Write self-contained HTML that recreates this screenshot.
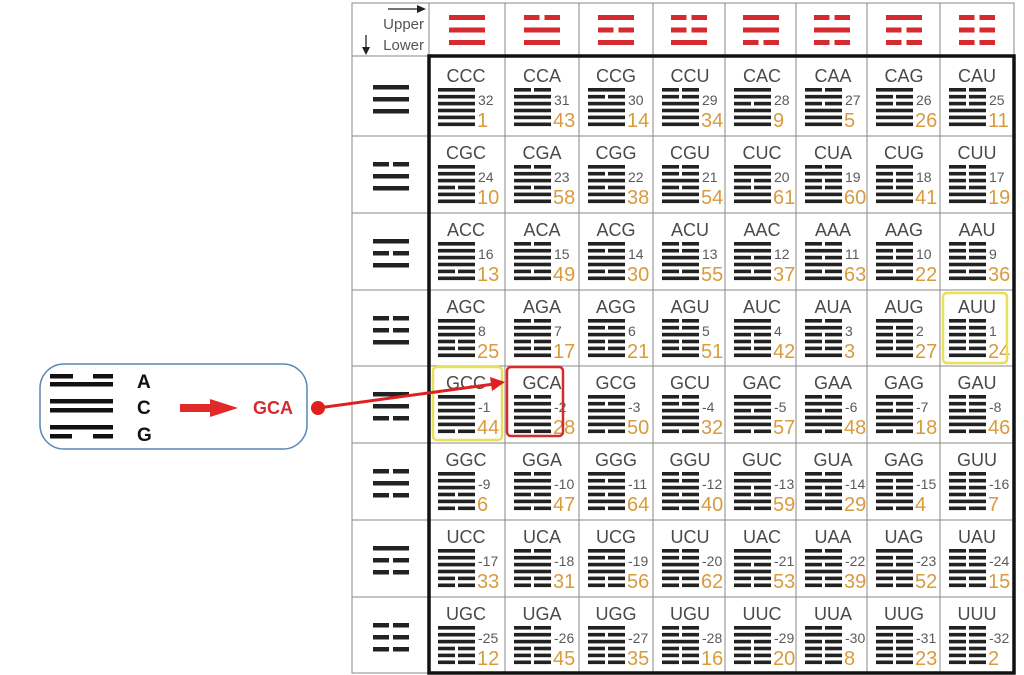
<!DOCTYPE html>
<html><head><meta charset="utf-8"><style>
html,body{margin:0;padding:0;background:#fff;}
svg{display:block;font-family:"Liberation Sans",sans-serif;}
.c{font-size:18px;fill:#4a4a4a;text-anchor:middle;}
.g{font-size:14px;fill:#5a5a5a;}
.o{font-size:20px;fill:#d99b3c;}
</style></head><body>
<svg width="1024" height="675" viewBox="0 0 1024 675" xmlns="http://www.w3.org/2000/svg">
<defs>
<g id="C" fill="#222"><rect x="9" y="0" width="37" height="3.6"/><rect x="9" y="6.9" width="37" height="3.6"/></g>
<g id="A" fill="#222"><rect x="9" y="0" width="17" height="3.6"/><rect x="29" y="0" width="17" height="3.6"/><rect x="9" y="6.9" width="37" height="3.6"/></g>
<g id="G" fill="#222"><rect x="9" y="0" width="37" height="3.6"/><rect x="9" y="6.9" width="17" height="3.6"/><rect x="29" y="6.9" width="17" height="3.6"/></g>
<g id="U" fill="#222"><rect x="9" y="0" width="17" height="3.6"/><rect x="29" y="0" width="17" height="3.6"/><rect x="9" y="6.9" width="17" height="3.6"/><rect x="29" y="6.9" width="17" height="3.6"/></g>
<g id="RS" fill="#d42a30"><rect x="0" y="0" width="36" height="5"/></g>
<g id="RB" fill="#d42a30"><rect x="0" y="0" width="15.5" height="5"/><rect x="20.5" y="0" width="15.5" height="5"/></g>
<g id="KS" fill="#222"><rect x="0" y="0" width="36" height="4.5"/></g>
<g id="KB" fill="#222"><rect x="0" y="0" width="16" height="4.5"/><rect x="20" y="0" width="16" height="4.5"/></g>
</defs>

<g stroke="#8a8a8a" stroke-width="1" fill="none">
<rect x="352" y="3" width="662" height="670"/>
<line x1="505" y1="3" x2="505" y2="673"/><line x1="579" y1="3" x2="579" y2="673"/><line x1="653" y1="3" x2="653" y2="673"/>
<line x1="725" y1="3" x2="725" y2="673"/><line x1="796" y1="3" x2="796" y2="673"/><line x1="867" y1="3" x2="867" y2="673"/><line x1="940" y1="3" x2="940" y2="673"/>
<line x1="352" y1="136" x2="1014" y2="136"/><line x1="352" y1="213" x2="1014" y2="213"/><line x1="352" y1="290" x2="1014" y2="290"/>
<line x1="352" y1="366" x2="1014" y2="366"/><line x1="352" y1="443" x2="1014" y2="443"/><line x1="352" y1="520" x2="1014" y2="520"/><line x1="352" y1="597" x2="1014" y2="597"/>
<line x1="352" y1="56" x2="429" y2="56"/><line x1="429" y1="3" x2="429" y2="56"/>
</g>
<rect x="429" y="56" width="585" height="617" fill="none" stroke="#111" stroke-width="3.5"/>

<text x="424" y="29" font-size="15" fill="#555" text-anchor="end">Upper</text>
<text x="424" y="50" font-size="15" fill="#555" text-anchor="end">Lower</text>
<line x1="388" y1="9" x2="420" y2="9" stroke="#222" stroke-width="1.3"/><polygon points="426,9 417,5 417,13" fill="#222"/>
<line x1="366" y1="35" x2="366" y2="50" stroke="#222" stroke-width="1.3"/><polygon points="366,55 362,47 370,47" fill="#222"/>

<g transform="translate(449,15)"><use href="#RS"/><use href="#RS" y="12.5"/><use href="#RS" y="25"/></g>
<g transform="translate(524,15)"><use href="#RB"/><use href="#RS" y="12.5"/><use href="#RS" y="25"/></g>
<g transform="translate(598,15)"><use href="#RS"/><use href="#RB" y="12.5"/><use href="#RS" y="25"/></g>
<g transform="translate(671,15)"><use href="#RB"/><use href="#RB" y="12.5"/><use href="#RS" y="25"/></g>
<g transform="translate(743,15)"><use href="#RS"/><use href="#RS" y="12.5"/><use href="#RB" y="25"/></g>
<g transform="translate(814,15)"><use href="#RB"/><use href="#RS" y="12.5"/><use href="#RB" y="25"/></g>
<g transform="translate(886,15)"><use href="#RS"/><use href="#RB" y="12.5"/><use href="#RB" y="25"/></g>
<g transform="translate(959,15)"><use href="#RB"/><use href="#RB" y="12.5"/><use href="#RB" y="25"/></g>

<g transform="translate(373,85)"><use href="#KS"/><use href="#KS" y="12"/><use href="#KS" y="24"/></g>
<g transform="translate(373,162)"><use href="#KB"/><use href="#KS" y="12"/><use href="#KS" y="24"/></g>
<g transform="translate(373,239)"><use href="#KS"/><use href="#KB" y="12"/><use href="#KS" y="24"/></g>
<g transform="translate(373,316)"><use href="#KB"/><use href="#KB" y="12"/><use href="#KS" y="24"/></g>
<g transform="translate(373,392)"><use href="#KS"/><use href="#KS" y="12"/><use href="#KB" y="24"/></g>
<g transform="translate(373,469)"><use href="#KB"/><use href="#KS" y="12"/><use href="#KB" y="24"/></g>
<g transform="translate(373,546)"><use href="#KS"/><use href="#KB" y="12"/><use href="#KB" y="24"/></g>
<g transform="translate(373,623)"><use href="#KB"/><use href="#KB" y="12"/><use href="#KB" y="24"/></g>

<g transform="translate(429,56)"><text class="c" x="37" y="26">CCC</text><use href="#C" y="32"/><use href="#C" y="45.8"/><use href="#C" y="59.6"/><text class="g" x="49" y="49">32</text><text class="o" x="48" y="71">1</text></g>
<g transform="translate(505,56)"><text class="c" x="37" y="26">CCA</text><use href="#A" y="32"/><use href="#C" y="45.8"/><use href="#C" y="59.6"/><text class="g" x="49" y="49">31</text><text class="o" x="48" y="71">43</text></g>
<g transform="translate(579,56)"><text class="c" x="37" y="26">CCG</text><use href="#G" y="32"/><use href="#C" y="45.8"/><use href="#C" y="59.6"/><text class="g" x="49" y="49">30</text><text class="o" x="48" y="71">14</text></g>
<g transform="translate(653,56)"><text class="c" x="37" y="26">CCU</text><use href="#U" y="32"/><use href="#C" y="45.8"/><use href="#C" y="59.6"/><text class="g" x="49" y="49">29</text><text class="o" x="48" y="71">34</text></g>
<g transform="translate(725,56)"><text class="c" x="37" y="26">CAC</text><use href="#C" y="32"/><use href="#A" y="45.8"/><use href="#C" y="59.6"/><text class="g" x="49" y="49">28</text><text class="o" x="48" y="71">9</text></g>
<g transform="translate(796,56)"><text class="c" x="37" y="26">CAA</text><use href="#A" y="32"/><use href="#A" y="45.8"/><use href="#C" y="59.6"/><text class="g" x="49" y="49">27</text><text class="o" x="48" y="71">5</text></g>
<g transform="translate(867,56)"><text class="c" x="37" y="26">CAG</text><use href="#G" y="32"/><use href="#A" y="45.8"/><use href="#C" y="59.6"/><text class="g" x="49" y="49">26</text><text class="o" x="48" y="71">26</text></g>
<g transform="translate(940,56)"><text class="c" x="37" y="26">CAU</text><use href="#U" y="32"/><use href="#A" y="45.8"/><use href="#C" y="59.6"/><text class="g" x="49" y="49">25</text><text class="o" x="48" y="71">11</text></g>
<g transform="translate(429,133)"><text class="c" x="37" y="26">CGC</text><use href="#C" y="32"/><use href="#G" y="45.8"/><use href="#C" y="59.6"/><text class="g" x="49" y="49">24</text><text class="o" x="48" y="71">10</text></g>
<g transform="translate(505,133)"><text class="c" x="37" y="26">CGA</text><use href="#A" y="32"/><use href="#G" y="45.8"/><use href="#C" y="59.6"/><text class="g" x="49" y="49">23</text><text class="o" x="48" y="71">58</text></g>
<g transform="translate(579,133)"><text class="c" x="37" y="26">CGG</text><use href="#G" y="32"/><use href="#G" y="45.8"/><use href="#C" y="59.6"/><text class="g" x="49" y="49">22</text><text class="o" x="48" y="71">38</text></g>
<g transform="translate(653,133)"><text class="c" x="37" y="26">CGU</text><use href="#U" y="32"/><use href="#G" y="45.8"/><use href="#C" y="59.6"/><text class="g" x="49" y="49">21</text><text class="o" x="48" y="71">54</text></g>
<g transform="translate(725,133)"><text class="c" x="37" y="26">CUC</text><use href="#C" y="32"/><use href="#U" y="45.8"/><use href="#C" y="59.6"/><text class="g" x="49" y="49">20</text><text class="o" x="48" y="71">61</text></g>
<g transform="translate(796,133)"><text class="c" x="37" y="26">CUA</text><use href="#A" y="32"/><use href="#U" y="45.8"/><use href="#C" y="59.6"/><text class="g" x="49" y="49">19</text><text class="o" x="48" y="71">60</text></g>
<g transform="translate(867,133)"><text class="c" x="37" y="26">CUG</text><use href="#G" y="32"/><use href="#U" y="45.8"/><use href="#C" y="59.6"/><text class="g" x="49" y="49">18</text><text class="o" x="48" y="71">41</text></g>
<g transform="translate(940,133)"><text class="c" x="37" y="26">CUU</text><use href="#U" y="32"/><use href="#U" y="45.8"/><use href="#C" y="59.6"/><text class="g" x="49" y="49">17</text><text class="o" x="48" y="71">19</text></g>
<g transform="translate(429,210)"><text class="c" x="37" y="26">ACC</text><use href="#C" y="32"/><use href="#C" y="45.8"/><use href="#A" y="59.6"/><text class="g" x="49" y="49">16</text><text class="o" x="48" y="71">13</text></g>
<g transform="translate(505,210)"><text class="c" x="37" y="26">ACA</text><use href="#A" y="32"/><use href="#C" y="45.8"/><use href="#A" y="59.6"/><text class="g" x="49" y="49">15</text><text class="o" x="48" y="71">49</text></g>
<g transform="translate(579,210)"><text class="c" x="37" y="26">ACG</text><use href="#G" y="32"/><use href="#C" y="45.8"/><use href="#A" y="59.6"/><text class="g" x="49" y="49">14</text><text class="o" x="48" y="71">30</text></g>
<g transform="translate(653,210)"><text class="c" x="37" y="26">ACU</text><use href="#U" y="32"/><use href="#C" y="45.8"/><use href="#A" y="59.6"/><text class="g" x="49" y="49">13</text><text class="o" x="48" y="71">55</text></g>
<g transform="translate(725,210)"><text class="c" x="37" y="26">AAC</text><use href="#C" y="32"/><use href="#A" y="45.8"/><use href="#A" y="59.6"/><text class="g" x="49" y="49">12</text><text class="o" x="48" y="71">37</text></g>
<g transform="translate(796,210)"><text class="c" x="37" y="26">AAA</text><use href="#A" y="32"/><use href="#A" y="45.8"/><use href="#A" y="59.6"/><text class="g" x="49" y="49">11</text><text class="o" x="48" y="71">63</text></g>
<g transform="translate(867,210)"><text class="c" x="37" y="26">AAG</text><use href="#G" y="32"/><use href="#A" y="45.8"/><use href="#A" y="59.6"/><text class="g" x="49" y="49">10</text><text class="o" x="48" y="71">22</text></g>
<g transform="translate(940,210)"><text class="c" x="37" y="26">AAU</text><use href="#U" y="32"/><use href="#A" y="45.8"/><use href="#A" y="59.6"/><text class="g" x="49" y="49">9</text><text class="o" x="48" y="71">36</text></g>
<g transform="translate(429,287)"><text class="c" x="37" y="26">AGC</text><use href="#C" y="32"/><use href="#G" y="45.8"/><use href="#A" y="59.6"/><text class="g" x="49" y="49">8</text><text class="o" x="48" y="71">25</text></g>
<g transform="translate(505,287)"><text class="c" x="37" y="26">AGA</text><use href="#A" y="32"/><use href="#G" y="45.8"/><use href="#A" y="59.6"/><text class="g" x="49" y="49">7</text><text class="o" x="48" y="71">17</text></g>
<g transform="translate(579,287)"><text class="c" x="37" y="26">AGG</text><use href="#G" y="32"/><use href="#G" y="45.8"/><use href="#A" y="59.6"/><text class="g" x="49" y="49">6</text><text class="o" x="48" y="71">21</text></g>
<g transform="translate(653,287)"><text class="c" x="37" y="26">AGU</text><use href="#U" y="32"/><use href="#G" y="45.8"/><use href="#A" y="59.6"/><text class="g" x="49" y="49">5</text><text class="o" x="48" y="71">51</text></g>
<g transform="translate(725,287)"><text class="c" x="37" y="26">AUC</text><use href="#C" y="32"/><use href="#U" y="45.8"/><use href="#A" y="59.6"/><text class="g" x="49" y="49">4</text><text class="o" x="48" y="71">42</text></g>
<g transform="translate(796,287)"><text class="c" x="37" y="26">AUA</text><use href="#A" y="32"/><use href="#U" y="45.8"/><use href="#A" y="59.6"/><text class="g" x="49" y="49">3</text><text class="o" x="48" y="71">3</text></g>
<g transform="translate(867,287)"><text class="c" x="37" y="26">AUG</text><use href="#G" y="32"/><use href="#U" y="45.8"/><use href="#A" y="59.6"/><text class="g" x="49" y="49">2</text><text class="o" x="48" y="71">27</text></g>
<g transform="translate(940,287)"><text class="c" x="37" y="26">AUU</text><use href="#U" y="32"/><use href="#U" y="45.8"/><use href="#A" y="59.6"/><text class="g" x="49" y="49">1</text><text class="o" x="48" y="71">24</text></g>
<g transform="translate(429,363)"><text class="c" x="37" y="26">GCC</text><use href="#C" y="32"/><use href="#C" y="45.8"/><use href="#G" y="59.6"/><text class="g" x="49" y="49">-1</text><text class="o" x="48" y="71">44</text></g>
<g transform="translate(505,363)"><text class="c" x="37" y="26">GCA</text><use href="#A" y="32"/><use href="#C" y="45.8"/><use href="#G" y="59.6"/><text class="g" x="49" y="49">-2</text><text class="o" x="48" y="71">28</text></g>
<g transform="translate(579,363)"><text class="c" x="37" y="26">GCG</text><use href="#G" y="32"/><use href="#C" y="45.8"/><use href="#G" y="59.6"/><text class="g" x="49" y="49">-3</text><text class="o" x="48" y="71">50</text></g>
<g transform="translate(653,363)"><text class="c" x="37" y="26">GCU</text><use href="#U" y="32"/><use href="#C" y="45.8"/><use href="#G" y="59.6"/><text class="g" x="49" y="49">-4</text><text class="o" x="48" y="71">32</text></g>
<g transform="translate(725,363)"><text class="c" x="37" y="26">GAC</text><use href="#C" y="32"/><use href="#A" y="45.8"/><use href="#G" y="59.6"/><text class="g" x="49" y="49">-5</text><text class="o" x="48" y="71">57</text></g>
<g transform="translate(796,363)"><text class="c" x="37" y="26">GAA</text><use href="#A" y="32"/><use href="#A" y="45.8"/><use href="#G" y="59.6"/><text class="g" x="49" y="49">-6</text><text class="o" x="48" y="71">48</text></g>
<g transform="translate(867,363)"><text class="c" x="37" y="26">GAG</text><use href="#G" y="32"/><use href="#A" y="45.8"/><use href="#G" y="59.6"/><text class="g" x="49" y="49">-7</text><text class="o" x="48" y="71">18</text></g>
<g transform="translate(940,363)"><text class="c" x="37" y="26">GAU</text><use href="#U" y="32"/><use href="#A" y="45.8"/><use href="#G" y="59.6"/><text class="g" x="49" y="49">-8</text><text class="o" x="48" y="71">46</text></g>
<g transform="translate(429,440)"><text class="c" x="37" y="26">GGC</text><use href="#C" y="32"/><use href="#G" y="45.8"/><use href="#G" y="59.6"/><text class="g" x="49" y="49">-9</text><text class="o" x="48" y="71">6</text></g>
<g transform="translate(505,440)"><text class="c" x="37" y="26">GGA</text><use href="#A" y="32"/><use href="#G" y="45.8"/><use href="#G" y="59.6"/><text class="g" x="49" y="49">-10</text><text class="o" x="48" y="71">47</text></g>
<g transform="translate(579,440)"><text class="c" x="37" y="26">GGG</text><use href="#G" y="32"/><use href="#G" y="45.8"/><use href="#G" y="59.6"/><text class="g" x="49" y="49">-11</text><text class="o" x="48" y="71">64</text></g>
<g transform="translate(653,440)"><text class="c" x="37" y="26">GGU</text><use href="#U" y="32"/><use href="#G" y="45.8"/><use href="#G" y="59.6"/><text class="g" x="49" y="49">-12</text><text class="o" x="48" y="71">40</text></g>
<g transform="translate(725,440)"><text class="c" x="37" y="26">GUC</text><use href="#C" y="32"/><use href="#U" y="45.8"/><use href="#G" y="59.6"/><text class="g" x="49" y="49">-13</text><text class="o" x="48" y="71">59</text></g>
<g transform="translate(796,440)"><text class="c" x="37" y="26">GUA</text><use href="#A" y="32"/><use href="#U" y="45.8"/><use href="#G" y="59.6"/><text class="g" x="49" y="49">-14</text><text class="o" x="48" y="71">29</text></g>
<g transform="translate(867,440)"><text class="c" x="37" y="26">GAG</text><use href="#G" y="32"/><use href="#U" y="45.8"/><use href="#G" y="59.6"/><text class="g" x="49" y="49">-15</text><text class="o" x="48" y="71">4</text></g>
<g transform="translate(940,440)"><text class="c" x="37" y="26">GUU</text><use href="#U" y="32"/><use href="#U" y="45.8"/><use href="#G" y="59.6"/><text class="g" x="49" y="49">-16</text><text class="o" x="48" y="71">7</text></g>
<g transform="translate(429,517)"><text class="c" x="37" y="26">UCC</text><use href="#C" y="32"/><use href="#C" y="45.8"/><use href="#U" y="59.6"/><text class="g" x="49" y="49">-17</text><text class="o" x="48" y="71">33</text></g>
<g transform="translate(505,517)"><text class="c" x="37" y="26">UCA</text><use href="#A" y="32"/><use href="#C" y="45.8"/><use href="#U" y="59.6"/><text class="g" x="49" y="49">-18</text><text class="o" x="48" y="71">31</text></g>
<g transform="translate(579,517)"><text class="c" x="37" y="26">UCG</text><use href="#G" y="32"/><use href="#C" y="45.8"/><use href="#U" y="59.6"/><text class="g" x="49" y="49">-19</text><text class="o" x="48" y="71">56</text></g>
<g transform="translate(653,517)"><text class="c" x="37" y="26">UCU</text><use href="#U" y="32"/><use href="#C" y="45.8"/><use href="#U" y="59.6"/><text class="g" x="49" y="49">-20</text><text class="o" x="48" y="71">62</text></g>
<g transform="translate(725,517)"><text class="c" x="37" y="26">UAC</text><use href="#C" y="32"/><use href="#A" y="45.8"/><use href="#U" y="59.6"/><text class="g" x="49" y="49">-21</text><text class="o" x="48" y="71">53</text></g>
<g transform="translate(796,517)"><text class="c" x="37" y="26">UAA</text><use href="#A" y="32"/><use href="#A" y="45.8"/><use href="#U" y="59.6"/><text class="g" x="49" y="49">-22</text><text class="o" x="48" y="71">39</text></g>
<g transform="translate(867,517)"><text class="c" x="37" y="26">UAG</text><use href="#G" y="32"/><use href="#A" y="45.8"/><use href="#U" y="59.6"/><text class="g" x="49" y="49">-23</text><text class="o" x="48" y="71">52</text></g>
<g transform="translate(940,517)"><text class="c" x="37" y="26">UAU</text><use href="#U" y="32"/><use href="#A" y="45.8"/><use href="#U" y="59.6"/><text class="g" x="49" y="49">-24</text><text class="o" x="48" y="71">15</text></g>
<g transform="translate(429,594)"><text class="c" x="37" y="26">UGC</text><use href="#C" y="32"/><use href="#G" y="45.8"/><use href="#U" y="59.6"/><text class="g" x="49" y="49">-25</text><text class="o" x="48" y="71">12</text></g>
<g transform="translate(505,594)"><text class="c" x="37" y="26">UGA</text><use href="#A" y="32"/><use href="#G" y="45.8"/><use href="#U" y="59.6"/><text class="g" x="49" y="49">-26</text><text class="o" x="48" y="71">45</text></g>
<g transform="translate(579,594)"><text class="c" x="37" y="26">UGG</text><use href="#G" y="32"/><use href="#G" y="45.8"/><use href="#U" y="59.6"/><text class="g" x="49" y="49">-27</text><text class="o" x="48" y="71">35</text></g>
<g transform="translate(653,594)"><text class="c" x="37" y="26">UGU</text><use href="#U" y="32"/><use href="#G" y="45.8"/><use href="#U" y="59.6"/><text class="g" x="49" y="49">-28</text><text class="o" x="48" y="71">16</text></g>
<g transform="translate(725,594)"><text class="c" x="37" y="26">UUC</text><use href="#C" y="32"/><use href="#U" y="45.8"/><use href="#U" y="59.6"/><text class="g" x="49" y="49">-29</text><text class="o" x="48" y="71">20</text></g>
<g transform="translate(796,594)"><text class="c" x="37" y="26">UUA</text><use href="#A" y="32"/><use href="#U" y="45.8"/><use href="#U" y="59.6"/><text class="g" x="49" y="49">-30</text><text class="o" x="48" y="71">8</text></g>
<g transform="translate(867,594)"><text class="c" x="37" y="26">UUG</text><use href="#G" y="32"/><use href="#U" y="45.8"/><use href="#U" y="59.6"/><text class="g" x="49" y="49">-31</text><text class="o" x="48" y="71">23</text></g>
<g transform="translate(940,594)"><text class="c" x="37" y="26">UUU</text><use href="#U" y="32"/><use href="#U" y="45.8"/><use href="#U" y="59.6"/><text class="g" x="49" y="49">-32</text><text class="o" x="48" y="71">2</text></g>

<rect x="433" y="367" width="69" height="73" rx="4" fill="none" stroke="#e8e05a" stroke-width="2.5"/>
<rect x="943" y="293" width="64" height="70" rx="4" fill="none" stroke="#e8e05a" stroke-width="2.5"/>
<rect x="507" y="367" width="56" height="69" rx="4" fill="none" stroke="#d42a30" stroke-width="2.5"/>

<rect x="40" y="364" width="267" height="85" rx="24" fill="#fff" stroke="#5a86b4" stroke-width="1.5"/>
<g fill="#111">
<rect x="50" y="374" width="23" height="4.5"/><rect x="93" y="374" width="20" height="4.5"/>
<rect x="50" y="382" width="63" height="4.5"/>
<rect x="50" y="399" width="63" height="4.5"/><rect x="50" y="408" width="63" height="4.5"/>
<rect x="50" y="425" width="63" height="4.5"/>
<rect x="50" y="434" width="22" height="4.5"/><rect x="93" y="434" width="20" height="4.5"/>
</g>
<g font-size="19" font-weight="bold" fill="#111">
<text x="137" y="388">A</text><text x="137" y="414">C</text><text x="137" y="441">G</text>
</g>
<rect x="180" y="404" width="32" height="8" fill="#e02a2a"/>
<polygon points="210,399 238,408 210,417" fill="#e02a2a"/>
<text x="253" y="414" font-size="18" font-weight="bold" fill="#d42a30">GCA</text>
<circle cx="318" cy="408" r="7" fill="#e02020"/>
<line x1="318" y1="408" x2="494" y2="384" stroke="#e02020" stroke-width="3"/>
<polygon points="505,382 490,377 492,391" fill="#e02020"/>
</svg>
</body></html>
